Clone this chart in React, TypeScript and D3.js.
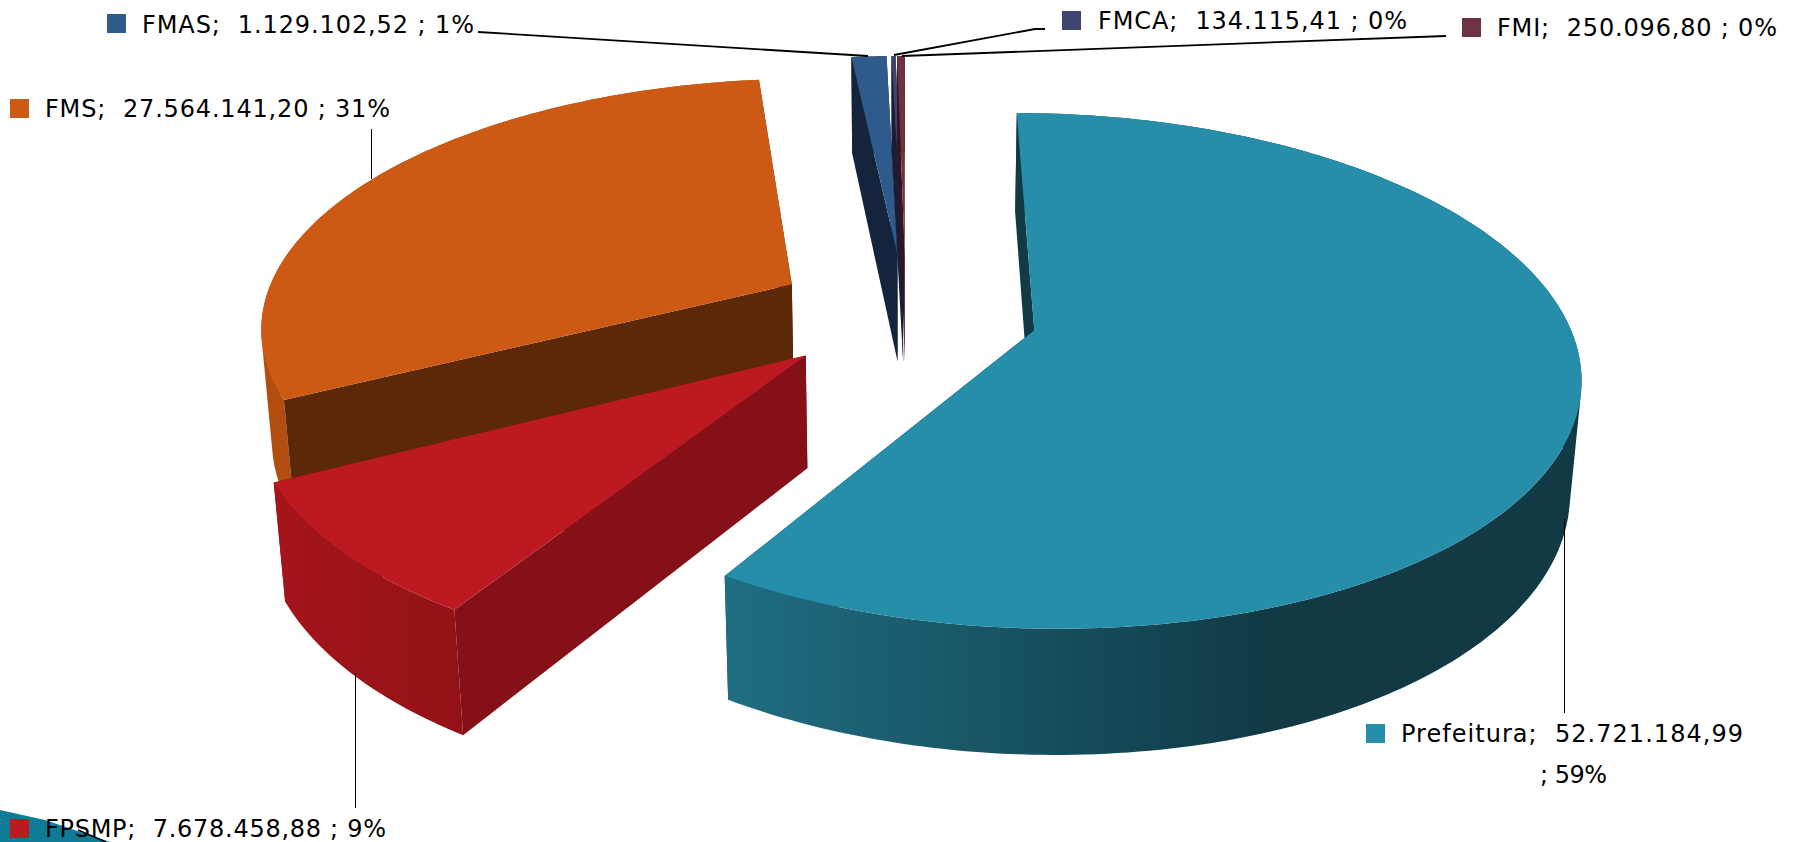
import React from "react";
import * as d3 from "d3";

const categories = ["Prefeitura", "FPSMP", "FMS", "FMAS", "FMCA", "FMI"];
const values = [52721184.99, 7678458.88, 27564141.2, 1129102.52, 134115.41, 250096.8];
const valueLabels = ["52.721.184,99", "7.678.458,88", "27.564.141,20", "1.129.102,52", "134.115,41", "250.096,80"];
const percentLabels = ["59%", "9%", "31%", "1%", "0%", "0%"];
const topColors = ["#268EA9", "#BC1A20", "#CC5A14", "#2F5A8C", "#3E4370", "#6E3343"];
const radialColors = ["#113A45", "#851017", "#5C2808", "#14243C", "#1B1D36", "#33151D"];
const outerFrom = ["#1F6E82", "#A5141B", "#B24E10", "#14243C", "#1B1D36", "#33151D"];
const outerTo = ["#113A45", "#921217", "#B24E10", "#14243C", "#1B1D36", "#33151D"];
const gradientRange = [[725, 1261], [273, 464], [260, 300], [850, 900], [880, 900], [890, 910]];
const paintOrder = [2, 3, 4, 5, 0, 1];

// Perspective camera of the tilted disc
const cx = 905.9, cy = 313, scaleX = 530.9, scaleY = 246, dropY = 112.4, persp = 0.1565, perspDepth = 0.0166;
const explode = 0.249;

const project = (X: number, Y: number, z: number): [number, number] => {
  const w = 1 - persp * Y + perspDepth * z;
  return [cx + (scaleX * X) / w, cy + (scaleY * Y + dropY * z) / w];
};

const pie = d3.pie<number>().sort(null).startAngle(0).endAngle(2 * Math.PI);
const arcs = pie(values);
const line = d3.line();

function sliceParts(i: number) {
  const a = arcs[i];
  const mid = (a.startAngle + a.endAngle) / 2;
  const ox = explode * Math.sin(mid), oy = -explode * Math.cos(mid);
  const rim = (t: number, z: number) => project(ox + Math.sin(t), oy - Math.cos(t), z);
  const n = Math.max(2, Math.ceil((a.endAngle - a.startAngle) / (Math.PI / 180)));
  const ts = d3.range(n + 1).map((k) => a.startAngle + ((a.endAngle - a.startAngle) * k) / n);
  const apex = project(ox, oy, 0), apexLow = project(ox, oy, 1);
  const top: [number, number][] = [apex, ...ts.map((t) => rim(t, 0))];
  // one quad per step, all wound the same way, so that one nonzero path is their union
  const outer = ts
    .slice(1)
    .map((t, k) => {
      const q: [number, number][] = [rim(ts[k], 0), rim(t, 0), rim(t, 1), rim(ts[k], 1)];
      return d3.polygonArea(q) < 0 ? q.reverse() : q;
    })
    .map((q) => line(q)! + "Z")
    .join("");
  const wallStart: [number, number][] = [apex, rim(a.startAngle, 0), rim(a.startAngle, 1), apexLow];
  const wallEnd: [number, number][] = [rim(a.endAngle, 0), apex, apexLow, rim(a.endAngle, 1)];
  const walls = [wallStart, wallEnd];
  // d3.polygonArea is positive for walls wound clockwise on screen: those face the viewer
  const front = walls.filter((w) => d3.polygonArea(w) > 0);
  const back = walls.filter((w) => d3.polygonArea(w) <= 0);
  return { top, outer, front, back };
}

const legendBox = [
  { x: 1366, y: 724, w: 19, textX: 1401, base: 742, len: 342 },
  { x: 10, y: 819, w: 19, textX: 45, base: 837, len: 341 },
  { x: 10, y: 99, w: 19, textX: 45, base: 117, len: 345 },
  { x: 107, y: 14, w: 19, textX: 142, base: 33, len: 332 },
  { x: 1062, y: 11, w: 19, textX: 1098, base: 29, len: 309 },
  { x: 1462, y: 18, w: 19, textX: 1497, base: 36, len: 280 },
];
const leaders: [number, number][][] = [
  [[1564.5, 519], [1564.5, 713]],
  [[355.5, 673], [355.5, 808]],
  [[371.5, 129], [371.5, 179]],
  [[478, 32], [868, 56]],
  [[1045, 29], [1035, 29], [894, 55]],
  [[1446, 36], [902, 56]],
];
const leaderWidths = [1, 1, 1, 1.8, 1.8, 1.8];

export default function App() {
  const font = { fontFamily: "'DejaVu Sans'", fontSize: 24, fill: "#000", whiteSpace: "pre" as const };
  return (
    <svg width={1798} height={842} viewBox="0 0 1798 842" style={{ position: "absolute", left: 0, top: 0, display: "block", background: "#fff" }}>
      <defs>
        {categories.map((c, i) => (
          <linearGradient key={c} id={`wall${i}`} gradientUnits="userSpaceOnUse" x1={gradientRange[i][0]} x2={gradientRange[i][1]} y1={0} y2={0}>
            <stop offset="0" stopColor={outerFrom[i]} />
            <stop offset="1" stopColor={outerTo[i]} />
          </linearGradient>
        ))}
      </defs>
      <polygon points="0,810 45,820 110,842 0,842" fill="#0E7A96" />
      <path d="M78,830 L106,842" stroke="#000" strokeWidth={1.5} fill="none" />
      {paintOrder.map((i) => {
        const p = sliceParts(i);
        return (
          <g key={categories[i]}>
            {p.back.map((w, k) => (
              <path key={k} d={line(w)! + "Z"} fill={radialColors[i]} />
            ))}
            <path d={p.outer} fill={`url(#wall${i})`} fillRule="nonzero" />
            {p.front.map((w, k) => (
              <path key={k} d={line(w)! + "Z"} fill={radialColors[i]} />
            ))}
            <path d={line(p.top)! + "Z"} fill={topColors[i]} />
          </g>
        );
      })}
      {leaders.map((l, i) => (
        <path key={i} d={line(l)!} fill="none" stroke="#000" strokeWidth={leaderWidths[i]} />
      ))}
      {categories.map((c, i) => {
        const b = legendBox[i];
        const label = i === 0 ? `${c};  ${valueLabels[i]}` : `${c};  ${valueLabels[i]} ; ${percentLabels[i]}`;
        return (
          <g key={c}>
            <rect x={b.x} y={b.y} width={b.w} height={b.w} fill={topColors[i]} />
            <text x={b.textX} y={b.base} textLength={b.len} lengthAdjust="spacing" style={font}>
              {label}
            </text>
          </g>
        );
      })}
      <text x={1540} y={783} textLength={67} lengthAdjust="spacing" style={font}>{`; ${percentLabels[0]}`}</text>
    </svg>
  );
}
